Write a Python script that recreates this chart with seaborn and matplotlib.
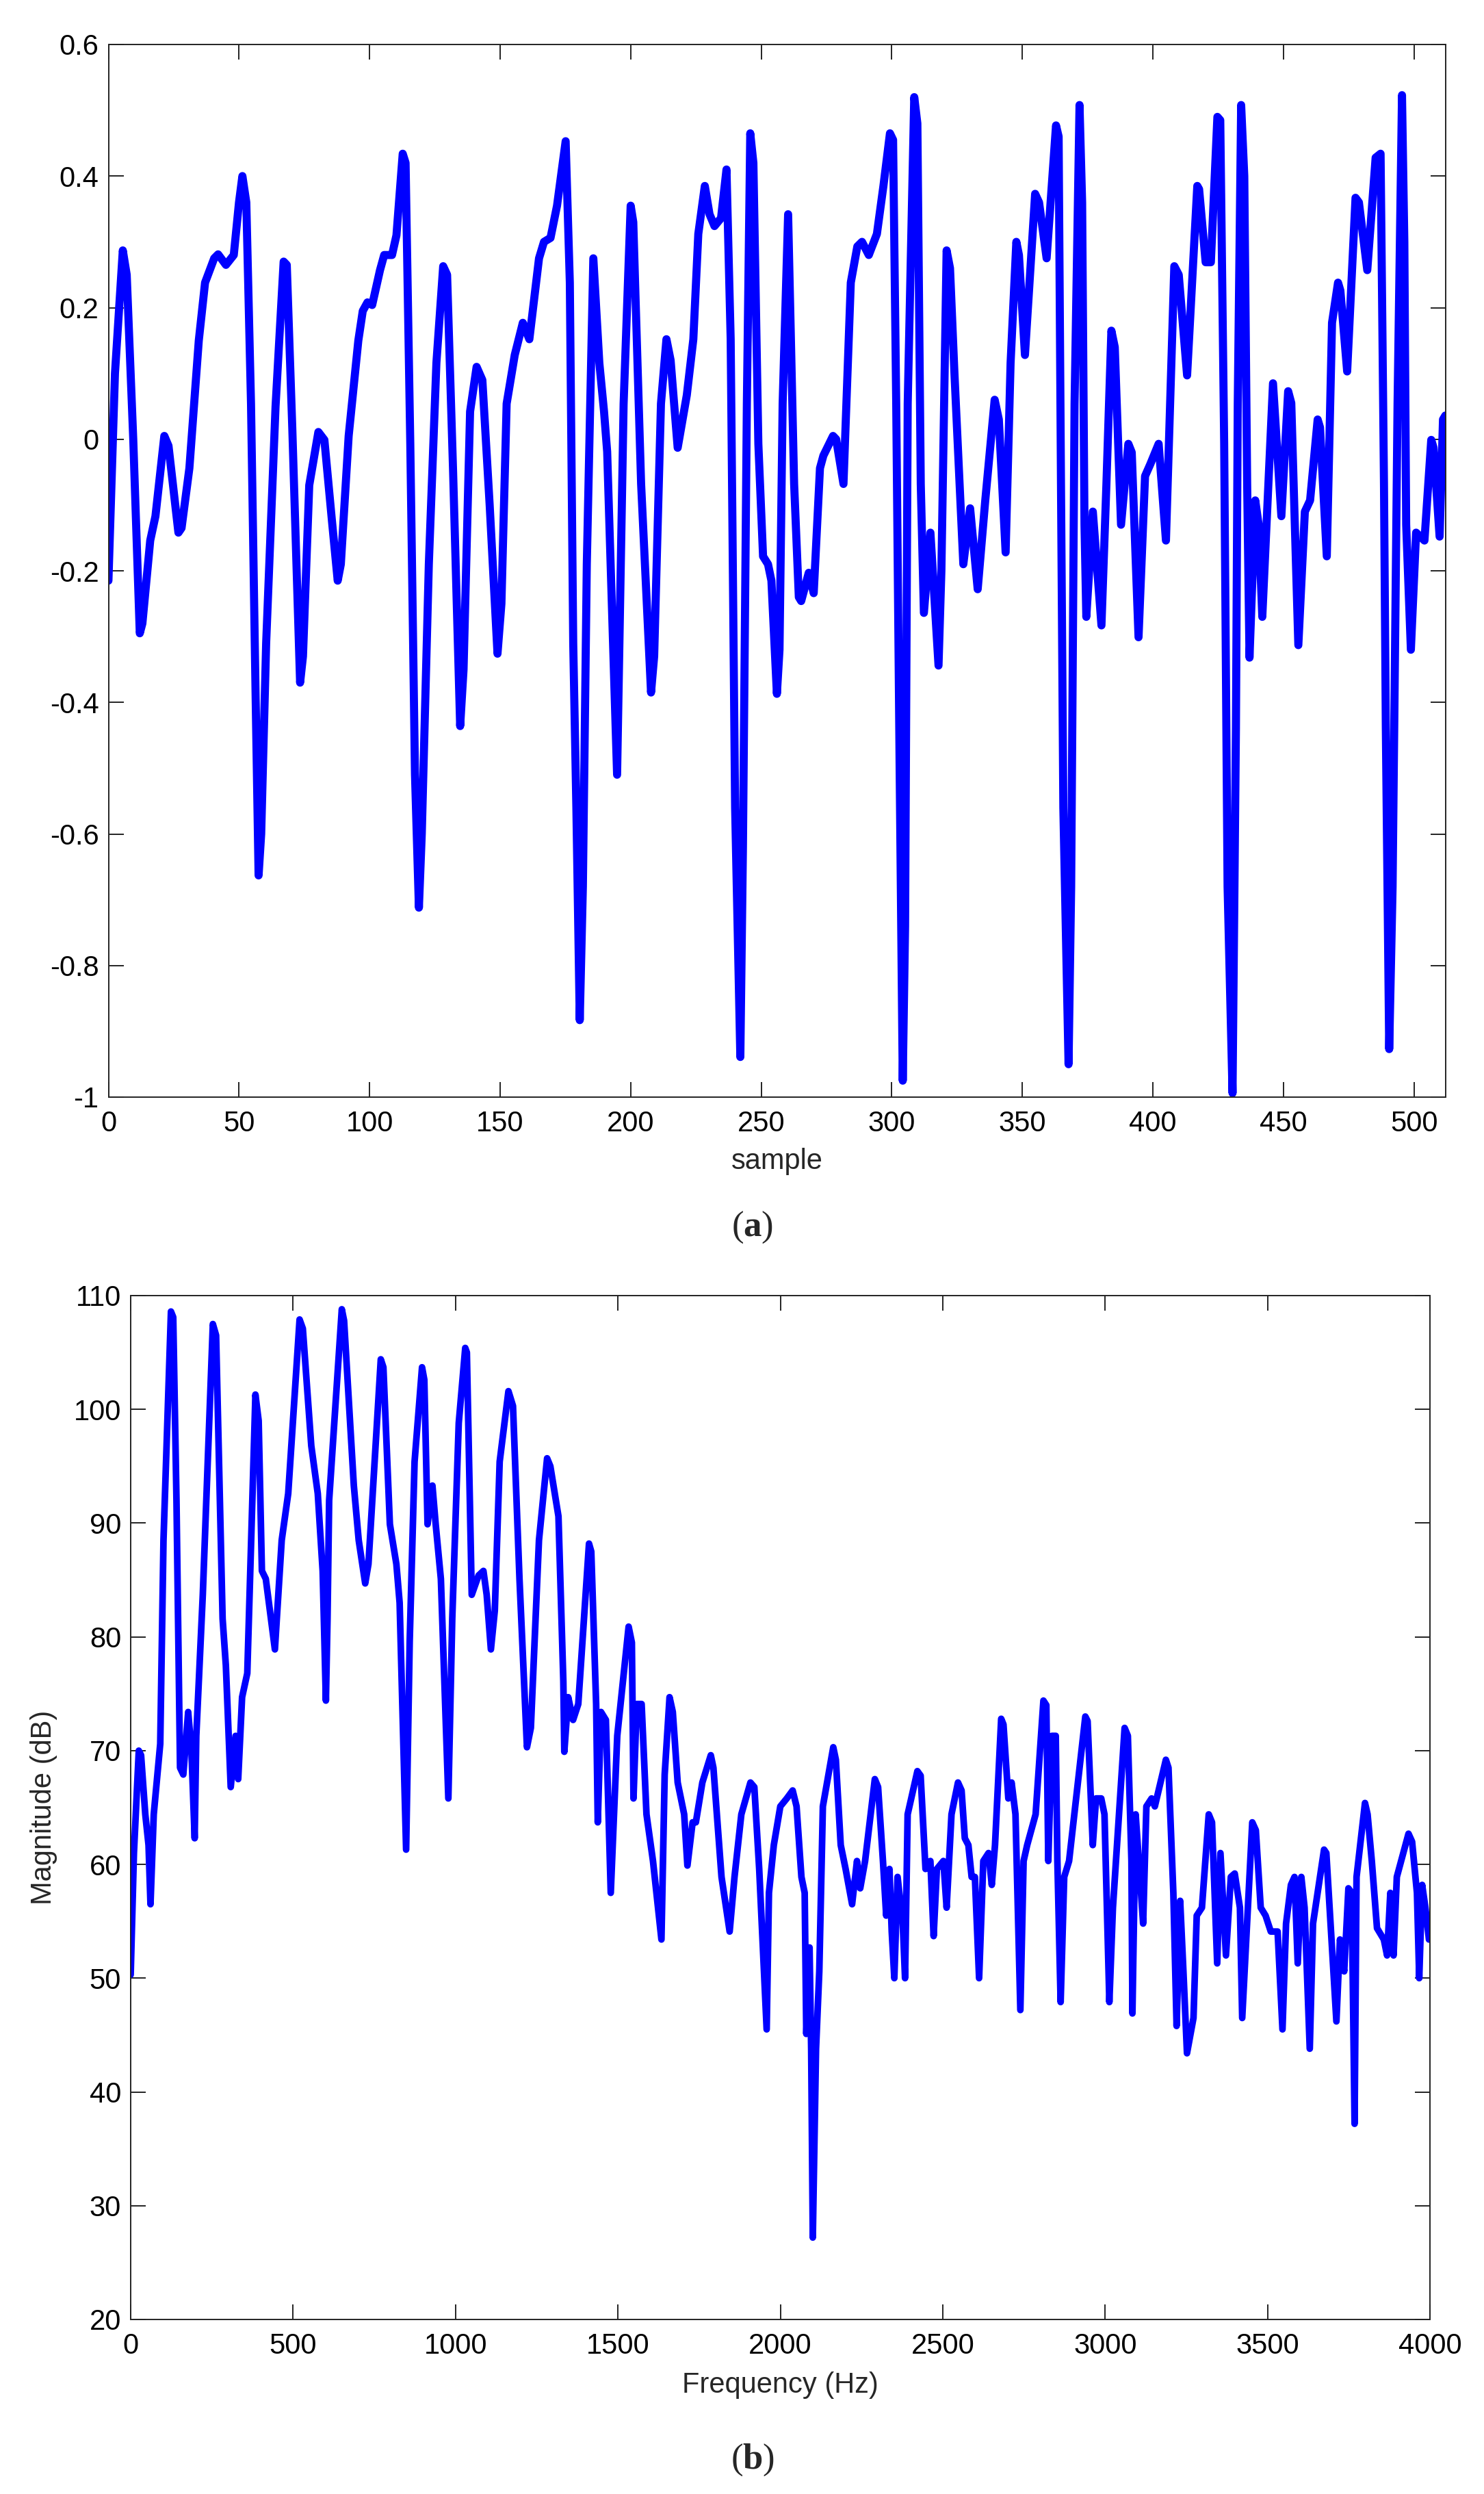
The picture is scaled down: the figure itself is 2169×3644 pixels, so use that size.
import matplotlib
matplotlib.use("Agg")
import matplotlib.pyplot as plt
import seaborn as sns
import pandas as pd

# ---------------- data ----------------
a_sample = [0, 2.5, 5.5, 7, 9.5, 12, 13, 16, 18, 21.4, 23, 26.8, 28, 31, 34.6, 37, 40.5, 42, 45, 48,
            50, 51.3, 52.8, 54.6, 56.3, 57.5, 58.5, 60.4, 64, 67.1, 68.3, 70.4, 73.4, 74.5, 76.9, 80.4,
            82.7, 85.5, 87.8, 89, 92, 95.7, 97.4, 99.2, 101, 104, 105.6, 108.6, 110.3, 112.7, 113.8,
            115.6, 117.4, 118.9, 120, 122.7, 125.6, 128.2, 129.7, 132, 134.7, 136, 138.5, 141, 143.2,
            146, 149, 150.5, 152.5, 155.6, 158.7, 161.2, 164.9, 166.8, 169.3, 171.8, 175.1, 176.7, 178,
            179.2, 180.5, 181.7, 183.2, 185.7, 188, 189.8, 191, 194.8, 197.3, 200, 201, 204, 207.8, 209,
            211.6, 213.7, 215.3, 218, 221.5, 224, 225.9, 228.4, 230.2, 232.1, 234.6, 236.7, 238.3, 240,
            242, 243, 244.5, 245.8, 247, 248.9, 250.7, 252.6, 253.9, 256, 257, 258.2, 260.3, 262.6,
            264.4, 265.3, 268.2, 270.1, 272.5, 273.8, 277.5, 278.7, 281.5, 284.3, 286.8, 288.6, 291.2,
            294.3, 296.8, 299.3, 300.5, 301.7, 303, 304.2, 305.1, 306.1, 308.6, 309.8, 311.1, 312.3,
            314.8, 317.9, 319, 321, 322.3, 324, 327.4, 330, 332.9, 335.8, 339.4, 341, 343.6, 345.5,
            347.7, 348.7, 351, 354.9, 356.4, 359.3, 362.9, 363.9, 364.8, 365.7, 367.7, 368.7, 370,
            371.9, 372.9, 373.8, 374.5, 377, 380.3, 382.2, 384.1, 385.4, 387.8, 390.6, 391.9, 394.5,
            397, 399, 402.2, 405, 408.2, 409.9, 413.1, 417, 417.7, 420.2, 422.2, 424.7, 425.8, 427.3,
            428.6, 430.5, 431.8, 432.5, 433.8, 435, 436.1, 437, 439.2, 440.5, 441.9, 446, 449.2, 451.8,
            453, 455.7, 458.2, 460.2, 463.1, 464, 466.6, 468.6, 470.9, 471.8, 474.4, 477.6, 478.9,
            482.1, 485.3, 487.2, 488.5, 489.2, 490.5, 491.8, 493.7, 495.4, 496.3, 497, 498.8, 500.8,
            504, 506.6, 507.5, 509.8, 511.1, 512]
a_value = [-0.215, 0.10, 0.287, 0.25, 0.0, -0.295, -0.28, -0.154, -0.117, 0.005, -0.01, -0.142, -0.135,
           -0.044, 0.15, 0.238, 0.275, 0.281, 0.265, 0.28, 0.36, 0.40, 0.36, 0.054, -0.375, -0.663,
           -0.60, -0.31, 0.05, 0.27, 0.265, 0.018, -0.37, -0.33, -0.07, 0.011, -0.001, -0.12, -0.215,
           -0.19, 0.005, 0.15, 0.195, 0.208, 0.204, 0.257, 0.28, 0.28, 0.31, 0.434, 0.42, -0.007, -0.51,
           -0.712, -0.60, -0.19, 0.116, 0.263, 0.25, -0.05, -0.436, -0.35, 0.042, 0.11, 0.09, -0.1,
           -0.326, -0.25, 0.054, 0.128, 0.177, 0.152, 0.275, 0.30, 0.306, 0.355, 0.453, 0.238, -0.31,
           -0.56, -0.883, -0.68, -0.19, 0.275, 0.116, 0.042, -0.019, -0.51, 0.054, 0.355, 0.33, -0.068,
           -0.385, -0.33, 0.054, 0.152, 0.12, -0.013, 0.067, 0.152, 0.312, 0.385, 0.342, 0.324, 0.336,
           0.41, 0.152, -0.56, -0.939, -0.62, 0.054, 0.465, 0.42, -0.007, -0.178, -0.19, -0.215, -0.387,
           -0.32, 0.054, 0.342, -0.068, -0.24, -0.246, -0.203, -0.234, -0.044, -0.025, 0.005, 0.0,
           -0.068, 0.238, 0.293, 0.30, 0.28, 0.312, 0.385, 0.465, 0.455, 0.054, -0.497, -0.975, -0.74,
           0.054, 0.52, 0.48, -0.068, -0.264, -0.142, -0.344, -0.2, 0.287, 0.26, 0.1, -0.19, -0.105,
           -0.228, -0.093, 0.06, 0.03, -0.172, 0.116, 0.30, 0.28, 0.128, 0.373, 0.36, 0.275, 0.477,
           0.46, -0.068, -0.56, -0.95, -0.68, 0.054, 0.508, 0.36, -0.13, -0.27, -0.11, -0.283, -0.068,
           0.165, 0.14, -0.13, -0.007, -0.02, -0.301, -0.056, -0.038, -0.007, -0.154, 0.263, 0.25,
           0.097, 0.385, 0.38, 0.269, 0.269, 0.49, 0.485, -0.007, -0.68, -0.994, -0.44, 0.054, 0.508,
           0.40, -0.068, -0.332, -0.093, -0.13, -0.27, 0.085, -0.117, 0.073, 0.055, -0.313, -0.11,
           -0.093, 0.03, 0.018, -0.178, 0.177, 0.238, 0.226, 0.103, 0.367, 0.36, 0.257, 0.428, 0.434,
           -0.068, -0.436, -0.927, -0.68, 0.054, 0.523, 0.30, -0.13, -0.32, -0.142, -0.154, -0.001,
           -0.013, -0.148, 0.03, 0.036]

b_freq = [0, 10, 25, 32, 45, 55, 61, 71, 91, 101, 124, 131, 141, 152, 162, 177, 187, 197, 202, 222, 253,
          263, 283, 293, 308, 323, 331, 343, 359, 384, 394, 404, 416, 444, 465, 485, 520, 530, 556, 576,
          591, 601, 606, 611, 650, 657, 687, 702, 722, 732, 770, 778, 798, 818, 828, 848, 859, 874, 897,
          904, 914, 929, 939, 955, 978, 990, 1010, 1030, 1035, 1050, 1071, 1086, 1096, 1109, 1121, 1136,
          1163, 1177, 1197, 1220, 1232, 1257, 1282, 1292, 1317, 1332, 1335, 1347, 1362, 1378, 1411,
          1418, 1433, 1438, 1448, 1463, 1478, 1498, 1533, 1543, 1548, 1558, 1573, 1588, 1608, 1634,
          1644, 1659, 1669, 1684, 1704, 1714, 1730, 1740, 1760, 1786, 1794, 1819, 1844, 1859, 1880,
          1908, 1920, 1935, 1958, 1965, 1980, 2000, 2020, 2038, 2050, 2065, 2075, 2080, 2090, 2095,
          2100, 2110, 2120, 2131, 2163, 2171, 2186, 2201, 2221, 2236, 2246, 2261, 2291, 2301, 2316,
          2326, 2336, 2343, 2351, 2361, 2377, 2384, 2392, 2422, 2432, 2447, 2462, 2472, 2482, 2502,
          2512, 2527, 2547, 2558, 2568, 2579, 2589, 2599, 2612, 2625, 2641, 2651, 2661, 2680, 2687,
          2702, 2712, 2724, 2739, 2749, 2760, 2786, 2810, 2819, 2825, 2836, 2848, 2853, 2863, 2874,
          2889, 2939, 2946, 2962, 2972, 2988, 2998, 3013, 3024, 3060, 3070, 3081, 3084, 3094, 3107,
          3117, 3127, 3143, 3153, 3187, 3195, 3210, 3220, 3231, 3241, 3252, 3272, 3282, 3298, 3319,
          3329, 3345, 3355, 3372, 3387, 3399, 3415, 3422, 3453, 3464, 3479, 3494, 3510, 3531, 3546,
          3557, 3572, 3583, 3593, 3604, 3614, 3630, 3640, 3674, 3681, 3697, 3712, 3723, 3736, 3749,
          3759, 3768, 3774, 3800, 3808, 3821, 3837, 3858, 3868, 3878, 3888, 3898, 3934, 3945, 3960,
          3967, 3976, 3986, 3997, 4000]
b_mag = [50.3, 61, 70, 69.6, 64.4, 61.7, 56.5, 64.4, 70.6, 88.5, 108.6, 108.1, 92, 68.5, 67.9, 73.4, 70,
         62.3, 71.3, 83.7, 107.5, 106.5, 81.6, 77.5, 66.8, 71.3, 67.5, 74.7, 76.8, 101.3, 99, 85.8, 85.1,
         78.9, 88.5, 92.6, 107.9, 107.1, 96.8, 92.6, 85.8, 74.4, 81.6, 92, 108.8, 107.8, 93.3, 88.5,
         84.7, 86.4, 104.4, 103.7, 89.9, 86.4, 83, 61.3, 79.6, 95.4, 103.7, 102.6, 89.9, 93.3, 89.9,
         85.1, 65.8, 81.6, 98.8, 105.4, 105, 83.7, 85.4, 85.8, 83.7, 78.9, 82.3, 95.4, 101.6, 100.3,
         85.1, 70.3, 72, 88.5, 95.7, 95, 90.6, 76.1, 69.9, 74.7, 72.7, 74.1, 88.2, 87.5, 74.1, 63.7,
         73.4, 72.7, 57.5, 71.3, 80.9, 79.5, 65.8, 74.1, 74.1, 64.4, 60.3, 53.4, 67.9, 74.7, 73.4,
         67.2, 64.4, 59.9, 63.7, 63.7, 67.2, 69.6, 68.5, 58.9, 54.1, 58.9, 64.4, 67.2, 66.8, 59.6,
         45.5, 57.5, 61.7, 65.1, 65.8, 66.5, 65.1, 58.9, 57.5, 45.1, 52.7, 43.8, 27.2, 43.8, 50.6,
         65.1, 70.3, 69.2, 61.7, 59.6, 56.5, 60.3, 57.9, 60.3, 67.5, 66.8, 60.3, 55.5, 59.6, 54.1, 50,
         58.9, 54.8, 50, 64.4, 68.2, 67.8, 59.6, 60.3, 53.7, 59.6, 60.3, 56.2, 64.4, 67.2, 66.5, 62.3,
         61.7, 58.9, 58.9, 50, 60.3, 61, 58.2, 61.7, 72.8, 72.3, 65.8, 67.2, 64.4, 47.2, 60.3, 61.7,
         64.4, 74.4, 74, 60.3, 71.3, 71.3, 60.3, 47.9, 58.9, 60.3, 73, 72.6, 61.7, 65.8, 65.8, 64.4,
         47.9, 56.2, 72, 71.3, 60.3, 46.9, 64.4, 58.9, 54.8, 65.1, 65.8, 65.1, 69.2, 68.5, 57.5, 45.8,
         56.8, 50.6, 43.4, 46.5, 55.5, 56.2, 64.4, 63.7, 51.3, 61, 52, 58.9, 59.2, 56.2, 46.5, 63.7,
         63, 56.2, 55.5, 54.1, 54.1, 45.5, 54.8, 58.2, 58.9, 51.3, 58.9, 56.2, 43.8, 54.8, 61.3, 61,
         53.4, 46.2, 53.4, 50.6, 57.9, 57.5, 37.2, 58.9, 65.4, 64.4, 60.3, 54.4, 53.4, 52, 57.5, 52,
         58.9, 62.7, 62, 57.5, 50, 58.2, 56.2, 53.4, 53.4]

a_xticks = [0, 50, 100, 150, 200, 250, 300, 350, 400, 450, 500]
a_yticks = [-1, -0.8, -0.6, -0.4, -0.2, 0, 0.2, 0.4, 0.6]
a_yticklabels = ["-1", "-0.8", "-0.6", "-0.4", "-0.2", "0", "0.2", "0.4", "0.6"]
b_xticks = [0, 500, 1000, 1500, 2000, 2500, 3000, 3500, 4000]
b_yticks = [20, 30, 40, 50, 60, 70, 80, 90, 100, 110]

# ---------------- style ----------------
sns.set_style("ticks")
plt.rcParams["font.family"] = ["Liberation Sans", "DejaVu Sans"]
plt.rcParams["axes.unicode_minus"] = False
plt.rcParams["mathtext.fontset"] = "custom"
plt.rcParams["mathtext.rm"] = "Liberation Serif"
plt.rcParams["mathtext.bf"] = "Liberation Serif:bold"

W, H = 2169, 3644
fig = plt.figure(figsize=(W / 100, H / 100), dpi=100)
fig.patch.set_facecolor("white")


def box(l, t, r, b):
    return [l / W, 1 - b / H, (r - l) / W, (b - t) / H]


axa = fig.add_axes(box(158.5, 65, 2112.5, 1603))
axb = fig.add_axes(box(191, 1893, 2090, 3389))

df_a = pd.DataFrame({"sample": a_sample, "value": a_value})
df_b = pd.DataFrame({"freq": b_freq, "mag": b_mag})

sns.lineplot(data=df_a, x="sample", y="value", ax=axa, color="#0000ff",
             linewidth=8.5, sort=False, estimator=None)
sns.lineplot(data=df_b, x="freq", y="mag", ax=axb, color="#0000ff",
             linewidth=7.0, sort=False, estimator=None)

for ax in (axa, axb):
    ax.set_facecolor("white")
    for sp in ax.spines.values():
        sp.set_visible(True)
        sp.set_linewidth(1.4)
        sp.set_color("#222222")
    ax.tick_params(which="both", direction="in", length=16, width=1.4,
                   top=True, right=True, labelsize=30, colors="#222222",
                   labelcolor="black")
    ax.tick_params(axis="x", pad=14)
    ax.tick_params(axis="y", pad=10)
    ax.grid(False)

axa.set_xlim(0, 512)
axa.set_ylim(-1, 0.6)
axa.set_xticks(a_xticks)
axa.set_yticks(a_yticks)
axa.set_yticklabels(a_yticklabels)
axa.set_xlabel("sample", fontsize=30, va="center")
axa.xaxis.set_label_coords(0.5, -0.061)
axa.set_ylabel("")

axb.set_xlim(0, 4000)
axb.set_ylim(20, 110)
axb.set_xticks(b_xticks)
axb.set_yticks(b_yticks)
axb.set_xlabel("Frequency (Hz)", fontsize=30, va="center")
axb.xaxis.set_label_coords(0.5, -0.064)
axb.set_ylabel("Magnitude (dB)", fontsize=30, va="center")
axb.yaxis.set_label_coords(-0.067, 0.5)

fig.text(1100 / W, 1 - 1793 / H, r"($\mathbf{a}$)", fontsize=38,
         family="Liberation Serif", ha="center", va="center")
fig.text(1100 / W, 1 - 3594 / H, r"($\mathbf{b}$)", fontsize=38,
         family="Liberation Serif", ha="center", va="center")

fig.savefig("out.png", dpi=100, facecolor="white")
